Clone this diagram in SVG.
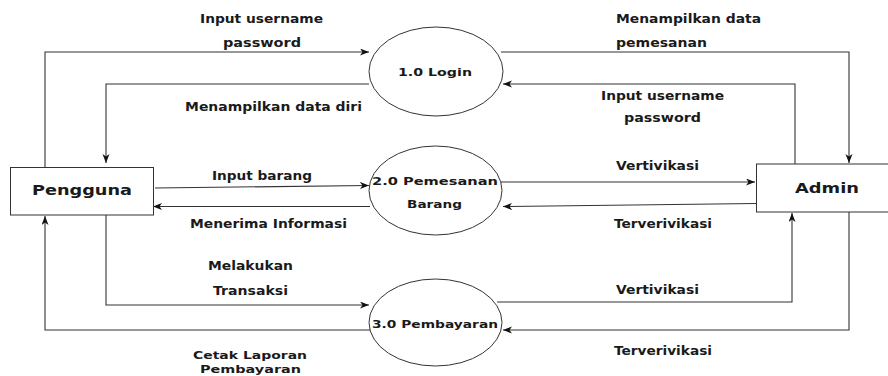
<svg xmlns="http://www.w3.org/2000/svg" width="888" height="376" viewBox="0 0 888 376">
<defs>
<marker id="arr" markerUnits="userSpaceOnUse" markerWidth="10" markerHeight="8" refX="9" refY="3.5" orient="auto">
<path d="M0,0 L9,3.5 L0,7 L2.5,3.5 Z" fill="#111"/>
</marker>
<style>
.n{fill:#fff;stroke:#333;stroke-width:1}
.c{fill:none;stroke:#333;stroke-width:1.1;marker-end:url(#arr)}
text{font-family:"DejaVu Sans","Liberation Sans",sans-serif;font-weight:bold;fill:#1a1a1a}
.l{font-size:11.5px}
.s{font-size:10.5px}
.p{font-size:11px}
.e{font-size:14px}
</style>
</defs>
<rect width="888" height="376" fill="#fff"/>
<g id="connectors">
<path class="c" d="M45,167 V52 H369"/>
<path class="c" d="M369,84 H106 V163"/>
<path class="c" d="M501,52 H849 V163"/>
<path class="c" d="M795,164 V84 H503"/>
<path class="c" d="M155,188 L369,185.5"/>
<path class="c" d="M370,206.5 H153"/>
<path class="c" d="M500,182 H755"/>
<path class="c" d="M756,203.5 L503,206.5"/>
<path class="c" d="M106,215 V305 H369"/>
<path class="c" d="M370,330 H45 V216"/>
<path class="c" d="M497,302 H792 V213"/>
<path class="c" d="M849,212 V330 H503"/>
</g>
<g id="labels">
<text class="l" x="200" y="23" textLength="123" lengthAdjust="spacingAndGlyphs">Input username</text>
<text class="l" x="223" y="47" textLength="78" lengthAdjust="spacingAndGlyphs">password</text>
<text class="l" x="185" y="111" textLength="177" lengthAdjust="spacingAndGlyphs">Menampilkan data diri</text>
<text class="l" x="616" y="23" textLength="145" lengthAdjust="spacingAndGlyphs">Menampilkan data</text>
<text class="l" x="616" y="47" textLength="91" lengthAdjust="spacingAndGlyphs">pemesanan</text>
<text class="l" x="601" y="100" textLength="123" lengthAdjust="spacingAndGlyphs">Input username</text>
<text class="l" x="624" y="122" textLength="77" lengthAdjust="spacingAndGlyphs">password</text>
<text class="l" x="212" y="180" textLength="100" lengthAdjust="spacingAndGlyphs">Input barang</text>
<text class="l" x="190" y="228" textLength="157" lengthAdjust="spacingAndGlyphs">Menerima Informasi</text>
<text class="l" x="616" y="170" textLength="83" lengthAdjust="spacingAndGlyphs">Vertivikasi</text>
<text class="l" x="614" y="228" textLength="98" lengthAdjust="spacingAndGlyphs">Terverivikasi</text>
<text class="l" x="208" y="270" textLength="85" lengthAdjust="spacingAndGlyphs">Melakukan</text>
<text class="l" x="213" y="295" textLength="75" lengthAdjust="spacingAndGlyphs">Transaksi</text>
<text class="s" x="193" y="359" textLength="114" lengthAdjust="spacingAndGlyphs">Cetak Laporan</text>
<text class="s" x="200" y="372.5" textLength="101" lengthAdjust="spacingAndGlyphs">Pembayaran</text>
<text class="l" x="616" y="294" textLength="83" lengthAdjust="spacingAndGlyphs">Vertivikasi</text>
<text class="l" x="614" y="355" textLength="98" lengthAdjust="spacingAndGlyphs">Terverivikasi</text>
</g>
<g id="pengguna">
<rect class="n" x="10.5" y="167.5" width="143" height="47.5"/>
<text class="e" x="32" y="195" textLength="100" lengthAdjust="spacingAndGlyphs">Pengguna</text>
</g>
<g id="admin">
<rect class="n" x="756.5" y="164" width="140" height="48"/>
<text class="e" x="795" y="193" textLength="64" lengthAdjust="spacingAndGlyphs">Admin</text>
</g>
<g id="login">
<ellipse class="n" cx="436" cy="71.5" rx="67" ry="44.5"/>
<text class="p" x="398" y="76" textLength="74" lengthAdjust="spacingAndGlyphs">1.0 Login</text>
</g>
<g id="pemesanan">
<ellipse class="n" cx="435.5" cy="190.5" rx="66.5" ry="44.5"/>
<text class="p" x="372" y="185" textLength="126" lengthAdjust="spacingAndGlyphs">2.0 Pemesanan</text>
<text class="p" x="407" y="208" textLength="55" lengthAdjust="spacingAndGlyphs">Barang</text>
</g>
<g id="pembayaran">
<ellipse class="n" cx="435.5" cy="322.5" rx="66.5" ry="43.5"/>
<text class="p" x="372" y="328" textLength="126" lengthAdjust="spacingAndGlyphs">3.0 Pembayaran</text>
</g>
</svg>
